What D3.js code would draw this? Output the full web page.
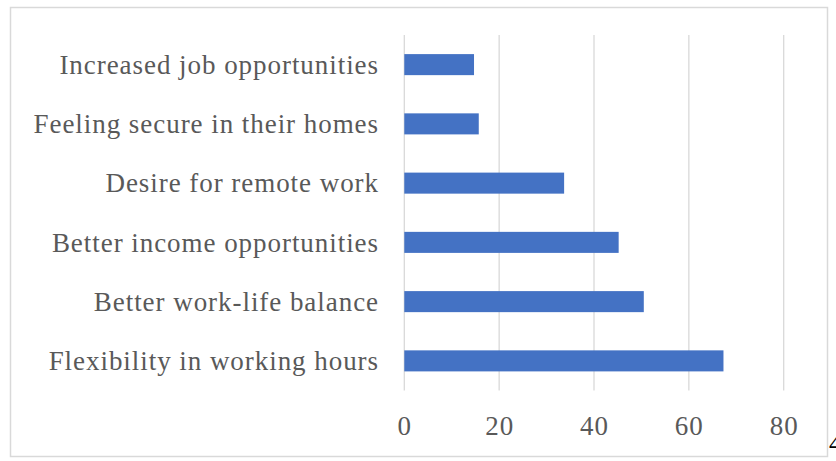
<!DOCTYPE html>
<html>
<head>
<meta charset="utf-8">
<script src="https://cdn.jsdelivr.net/npm/d3@7"></script>
<style>
  html, body { margin: 0; padding: 0; background: #fff; }
  svg { display: block; }
</style>
</head>
<body>
<svg id="chart" width="836" height="461"></svg>
<script>
// Reasons reported, in percent of respondents (top to bottom)
const categories = [
  "Increased job opportunities",
  "Feeling secure in their homes",
  "Desire for remote work",
  "Better income opportunities",
  "Better work-life balance",
  "Flexibility in working hours"
];
const values = [14.7, 15.7, 33.7, 45.2, 50.5, 67.3];
const xTicks = [0, 20, 40, 60, 80];

const W = 836, H = 461;
const svg = d3.select("#chart");
const FONT = "'Liberation Serif', 'DejaVu Serif', serif";
const TEXT = "#595959";

// chart frame
svg.append("rect")
  .attr("x", 10.5).attr("y", 7.5)
  .attr("width", 817).attr("height", 449)
  .attr("fill", "#fff")
  .attr("stroke", "#d9d9d9").attr("stroke-width", 1.5);

const plot = { left: 404.3, right: 783.7, top: 35, bottom: 390.5 };

const x = d3.scaleLinear().domain([0, 80]).range([plot.left, plot.right]);
const y = d3.scaleBand().domain(categories).range([plot.top, plot.bottom]).paddingInner(0.645).paddingOuter(0.3225);

// vertical gridlines
svg.append("g")
  .selectAll("line")
  .data(xTicks)
  .join("line")
  .attr("x1", d => x(d)).attr("x2", d => x(d))
  .attr("y1", plot.top).attr("y2", plot.bottom)
  .attr("stroke", "#d9d9d9").attr("stroke-width", 1.3);

// bars
svg.append("g")
  .selectAll("rect")
  .data(categories)
  .join("rect")
  .attr("x", x(0))
  .attr("y", d => y(d))
  .attr("width", (d, i) => x(values[i]) - x(0))
  .attr("height", y.bandwidth())
  .attr("fill", "#4472c4");

// category labels
svg.append("g")
  .selectAll("text")
  .data(categories)
  .join("text")
  .attr("x", 379)
  .attr("y", d => y(d) + y.bandwidth() / 2)
  .attr("dy", "0.34em")
  .attr("text-anchor", "end")
  .attr("font-family", FONT)
  .attr("font-size", 27)
  .attr("letter-spacing", "0.95px")
  .attr("fill", TEXT)
  .text(d => d);

// value axis labels
const xAxis = d3.axisBottom(x).tickValues(xTicks).tickSize(0).tickPadding(0);
const gx = svg.append("g").attr("transform", `translate(0, 435)`).call(xAxis);
gx.select(".domain").remove();
gx.selectAll("text")
  .attr("dy", 0)
  .attr("font-family", FONT)
  .attr("font-size", 27)
  .attr("letter-spacing", "1px")
  .attr("fill", TEXT);

// page number at the lower right edge
svg.append("text")
  .attr("x", 829).attr("y", 452)
  .attr("font-family", FONT)
  .attr("font-size", 26)
  .attr("fill", "#000")
  .text("4");
</script>
</body>
</html>
